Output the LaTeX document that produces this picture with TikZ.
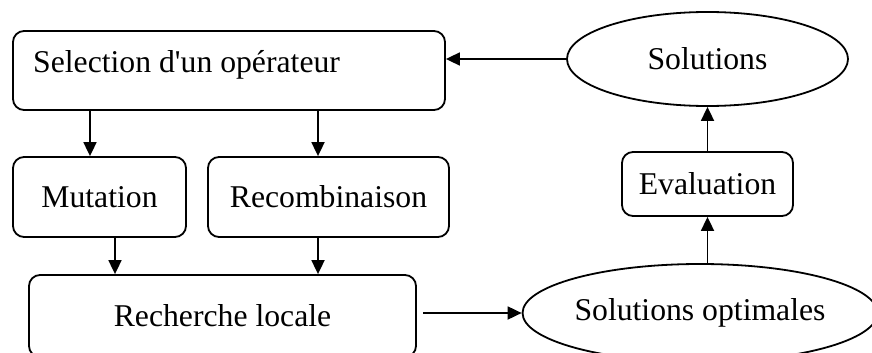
\documentclass[tikz,border=0pt]{standalone}
\usepackage{fontspec}
\setmainfont{Liberation Serif}[Ligatures=TeXOff]
\usetikzlibrary{arrows.meta,shapes.geometric}
\begin{document}
\begin{tikzpicture}[x=1pt,y=-1pt,
  every node/.style={font=\fontsize{31.7}{38}\selectfont},
  box/.style={draw,line width=1.8pt,rounded corners=11pt,rectangle,inner sep=0pt},
  oval/.style={draw,line width=1.8pt,ellipse,inner sep=0pt},
  arr/.style={line width=1.8pt,-{Triangle[length=14pt,width=13pt]}}]
\useasboundingbox (0,0) rectangle (872,353);
\clip (0,0) rectangle (872,353);
% boxes
\node[box,minimum width=432pt,minimum height=79pt] (sel) at (229,70.5) {};
\node[anchor=base west,inner sep=0pt] (seltext) at (33,72) {Selection d'un opérateur};
\node[box,minimum width=173pt,minimum height=80pt] (mut) at (99.5,197) {Mutation};
\node[box,minimum width=241pt,minimum height=80pt] (rec) at (328.5,197) {Recombinaison};
\node[box,minimum width=387pt,minimum height=82pt] (rl) at (222.5,316) {Recherche locale};
\node[box,minimum width=171pt,minimum height=64pt] (eval) at (707.5,184) {Evaluation};
\node[oval,minimum width=281pt,minimum height=94pt] (sol) at (707.5,59) {Solutions};
\node[oval,minimum width=342pt,minimum height=98pt] (solopt) at (700,313) {Solutions optimales};
% coordinates
\coordinate (a1) at (90,110);
\coordinate (a2) at (318,110);
\coordinate (a3) at (115,237);
\coordinate (a4) at (318,237);
\coordinate (a5) at (423,313);
\coordinate (a6) at (707.5,263);
% connectors
\draw[arr] (sol.west) -- (sel.east |- sol.west);
\draw[arr] (a1) -- (a1 |- mut.north);
\draw[arr] (a2) -- (a2 |- rec.north);
\draw[arr] (a3) -- (a3 |- rl.north);
\draw[arr] (a4) -- (a4 |- rl.north);
\draw[arr] (a5) -- (solopt.west);
\draw[arr] (a6) -- (eval.south);
\draw[arr] (eval.north) -- (sol.south);
\end{tikzpicture}
\end{document}
